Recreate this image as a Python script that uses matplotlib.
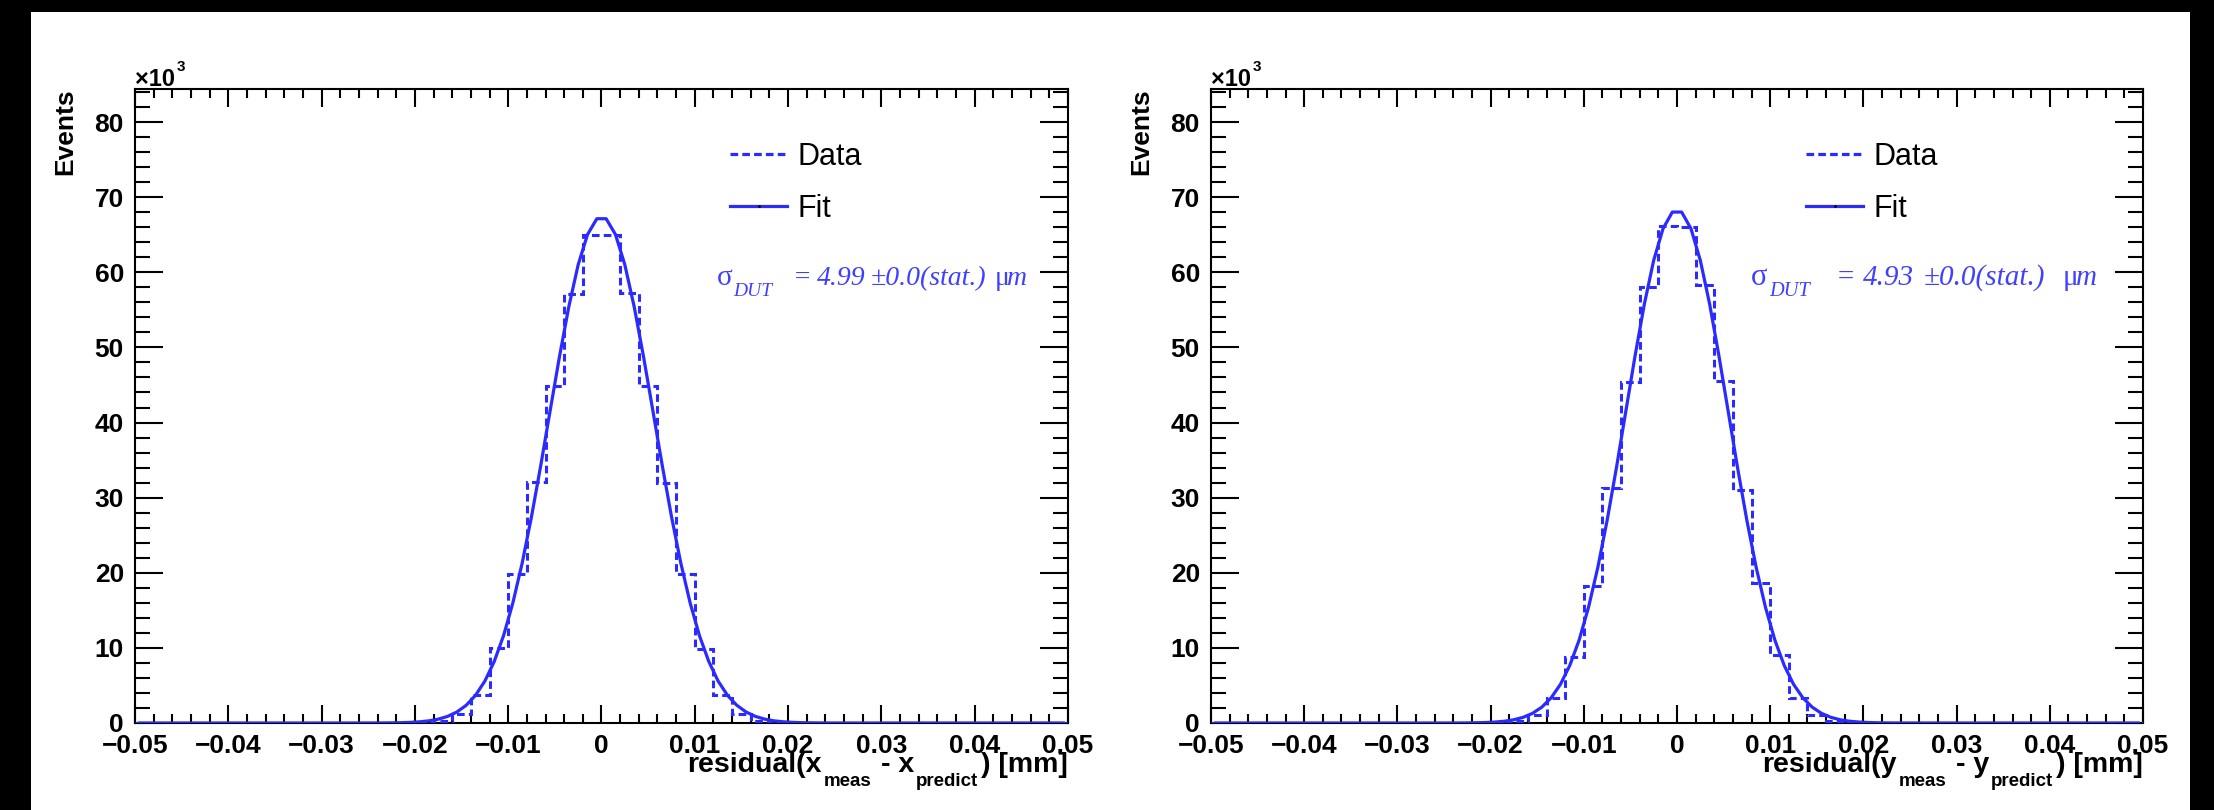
import numpy as np
import matplotlib
matplotlib.use("Agg")
import matplotlib.pyplot as plt
from matplotlib.ticker import MultipleLocator, FuncFormatter
from matplotlib.patches import Rectangle
from matplotlib.transforms import IdentityTransform

plt.rcParams['lines.scale_dashes'] = False
plt.rcParams['font.family'] = ['Liberation Sans', 'DejaVu Sans']
plt.rcParams['font.weight'] = 'bold'

# ---- residual histograms: thousands of events per 2 um bin ----
hist_lo, hist_hi, n_bins = -0.05, 0.05, 50
core_start = -0.020          # lower edge of the first populated bin [mm]
x_core_counts = [0.05, 0.3, 1.2, 3.7, 10.0, 19.8, 32.1, 44.9, 57.1, 65.0,
                 65.0, 57.3, 44.8, 31.9, 19.9, 9.9, 3.7, 1.2, 0.3, 0.05]
y_core_counts = [0.05, 0.3, 1.0, 3.3, 8.8, 18.3, 31.3, 45.4, 58.0, 66.2,
                 66.0, 58.3, 45.5, 31.0, 18.6, 9.1, 3.3, 1.0, 0.3, 0.05]

# ---- Gaussian fit results: amplitude [10^3], mean [mm], sigma [mm] ----
x_fit = (67.4, 0.0, 0.0056)
y_fit = (68.3, 0.0, 0.0055)

# ---- DUT resolution after unfolding the telescope contribution [um] ----
sigma_dut = [4.99, 4.93]
sigma_dut_stat = [0.0, 0.0]
coords = ['x', 'y']

BLUE = '#2b2bff'
TXT_BLUE = '#4040ff'
W, H = 2214, 810

fig = plt.figure(figsize=(W / 100, H / 100), dpi=100, facecolor='black')
fig.add_artist(Rectangle((31 / W, 0), (2190 - 31) / W, (H - 12) / H,
                         transform=fig.transFigure, facecolor='white',
                         edgecolor='none', zorder=-10))
renderer = fig.canvas.get_renderer()
PX = IdentityTransform()

SANS_B = dict(family='Liberation Sans', weight='bold')
SANS = dict(family='Liberation Sans', weight='normal')
SERIF = dict(family='Liberation Serif', weight='normal', style='normal')
SERIF_I = dict(family='Liberation Serif', weight='normal', style='italic')


def px_text(x, y, s, **kw):
    """Text at pixel position measured from the top-left of the canvas."""
    return fig.text(x, H - y, s, transform=PX, **kw)


def text_run(x, y, pieces, ha='left', color='black'):
    """Run of text pieces on a common baseline y.
    Each piece: (string, font dict, size, gap before [px], drop [px])."""
    arts = []
    for s, fp, size, gap, drop in pieces:
        t = px_text(0, 0, s, va='baseline', ha='left', color=color,
                    fontsize=size, **fp)
        arts.append((t, gap, drop, t.get_window_extent(renderer).width))
    total = sum(g + w for _, g, _, w in arts)
    cur = x - total if ha == 'right' else x
    for t, gap, drop, w in arts:
        cur += gap
        t.set_position((cur, H - (y + drop)))
        cur += w


def text_at(x0, y, pieces, color, stretch=1.0, scale=1.0):
    """Pieces placed at explicit x offsets from x0: (string, font, size, dx, drop)."""
    for s, fp, size, dx, drop in pieces:
        px_text(x0 + dx * stretch, y + drop, s, va='baseline', ha='left',
                color=color, fontsize=size * scale, **fp)


AX_TOP, AX_BOT = 89, 723
panel_x = [(135, 1068), (1211, 2143)]
annot_dx = [582, 540]
annot_stretch = [1.0, 1.12]
annot_scale = [1.0, 1.05]

edges = np.linspace(hist_lo, hist_hi, n_bins + 1)
curve_x = np.linspace(hist_lo + 0.0005, hist_hi - 0.0005, 100)


def xfmt(v, _):
    if abs(v) < 1e-9:
        return '0'
    return f'{v:.2f}'.replace('-', '\u2212')


for (left, right), coord, core, fit, sdut, sstat, adx, ast, asc in zip(
        panel_x, coords, [x_core_counts, y_core_counts], [x_fit, y_fit],
        sigma_dut, sigma_dut_stat, annot_dx, annot_stretch, annot_scale):
    ax = fig.add_axes([left / W, (H - AX_BOT) / H, (right - left) / W,
                       (AX_BOT - AX_TOP) / H])
    ax.set_facecolor('white')

    counts = np.zeros(n_bins)
    i0 = int(round((core_start - hist_lo) / (edges[1] - edges[0])))
    counts[i0:i0 + len(core)] = core
    ax.stairs(counts, edges, color=BLUE, linewidth=2.2,
              linestyle=(0, (5.5, 3.0)), zorder=3)

    amp, mu, sig = fit
    ax.plot(curve_x, amp * np.exp(-0.5 * ((curve_x - mu) / sig) ** 2),
            color=BLUE, linewidth=2.3, solid_joinstyle='round', zorder=4)

    ax.set_xlim(hist_lo, hist_hi)
    ax.set_ylim(0, 84.4)
    ax.xaxis.set_major_locator(MultipleLocator(0.01))
    ax.xaxis.set_minor_locator(MultipleLocator(0.002))
    ax.yaxis.set_major_locator(MultipleLocator(10))
    ax.yaxis.set_minor_locator(MultipleLocator(2))
    ax.xaxis.set_major_formatter(FuncFormatter(xfmt))
    ax.yaxis.set_major_formatter(FuncFormatter(lambda v, _: f'{v:.0f}'))
    ax.tick_params(which='both', direction='in', top=True, right=True,
                   width=1.5, color='black', labelsize=19)
    ax.tick_params(axis='x', which='major', length=13, pad=8)
    ax.tick_params(axis='x', which='minor', length=6.5)
    ax.tick_params(axis='y', which='major', length=20, pad=8)
    ax.tick_params(axis='y', which='minor', length=10.8)
    for sp in ax.spines.values():
        sp.set_linewidth(1.5)

    # axis titles
    px_text(left - 70, AX_TOP - 1, 'Events', rotation=90, ha='center',
            va='top', fontsize=19, **SANS_B)
    text_run(left, 86, [('\u00d710', SANS_B, 17, 0, 0),
                        ('3', SANS_B, 11, 2, -15)])
    text_run(right, 772, [(f'residual({coord}', SANS_B, 20.5, 0, 0),
                          ('meas', SANS_B, 13.5, 2, 14),
                          (f'- {coord}', SANS_B, 20.5, 9, 0),
                          ('predict', SANS_B, 13.5, 2, 14),
                          (') [mm]', SANS_B, 20.5, 3, 0)], ha='right')

    # legend
    lx0, lx1, tx = left + 595, left + 652, left + 663
    for yy, ls in [(154, (0, (5.5, 3.0))), (206, '-')]:
        fig.add_artist(plt.Line2D([lx0, lx1], [H - yy, H - yy],
                                  transform=PX, color=BLUE, linewidth=2.3,
                                  linestyle=ls))
    fig.add_artist(plt.Line2D([(lx0 + lx1) / 2], [H - 206], transform=PX,
                              marker='.', markersize=2, color='black'))
    px_text(tx, 165, 'Data', va='baseline', ha='left', fontsize=22, **SANS)
    px_text(tx, 217, 'Fit', va='baseline', ha='left', fontsize=22, **SANS)

    # resolution annotation
    text_at(left + adx, 285, [
        ('\u03c3', SERIF, 21, 0, 0),
        ('DUT', SERIF_I, 14, 16, 11),
        ('=', SERIF_I, 20, 76, 0),
        (f'{sdut:.2f}', SERIF_I, 20, 100, 0),
        (f'\u00b1{sstat:.1f}(stat.)', SERIF_I, 20, 154, 0),
        ('\u03bc', SERIF, 20, 278, 0),
        ('m', SERIF_I, 20, 290, 0),
    ], TXT_BLUE, stretch=ast, scale=asc)

fig.savefig('out.png', dpi=100, facecolor=fig.get_facecolor())
